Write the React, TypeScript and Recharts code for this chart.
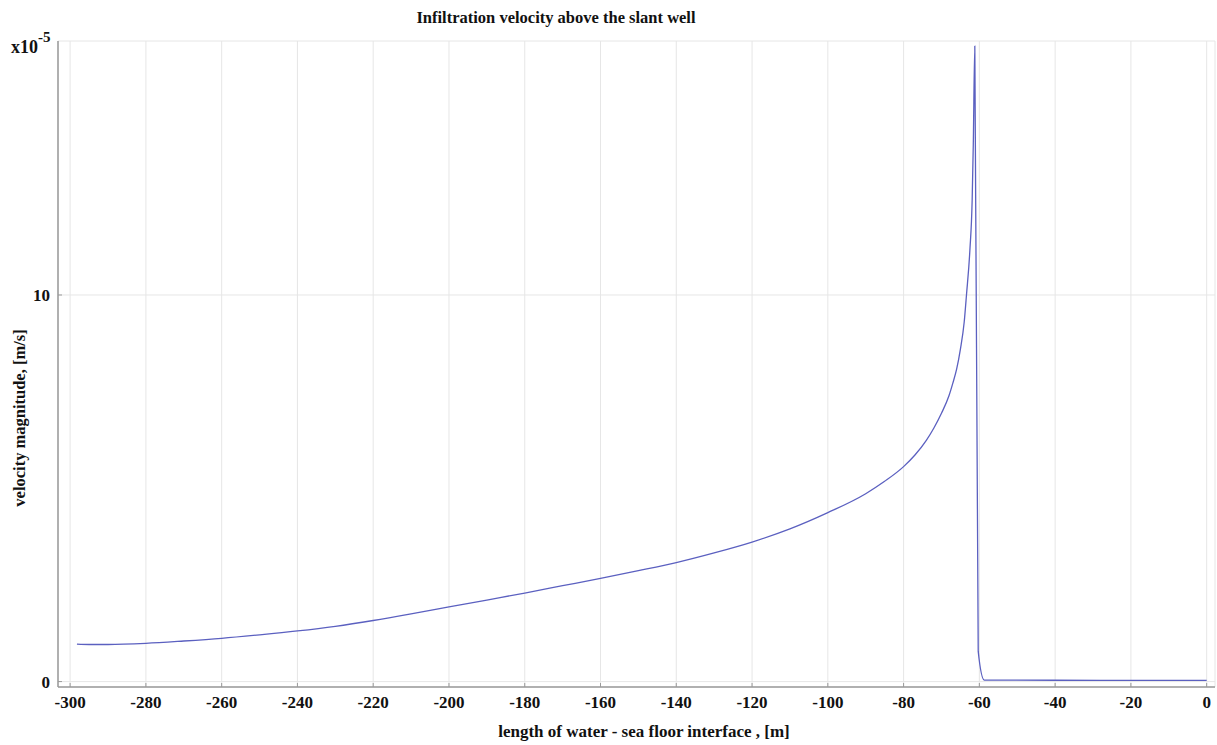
import React from 'react';
import { LineChart, Line, XAxis, YAxis, CartesianGrid } from 'recharts';

// length along water - sea floor interface [m]
const lengthM = [
  -298.2, -295, -290, -280, -270, -260, -250, -240, -230, -220, -210, -200,
  -190, -180, -170, -160, -150, -140, -130, -120, -110, -100, -90, -85, -80,
  -77, -74, -72, -70, -68, -67, -66, -65, -64, -63.4, -62.5, -61.9, -61.6, -61.2,
  -60.3, -58.7, -40, -20, 0,
];
// velocity magnitude [x10^-5 m/s]
const velocity = [
  0.97, 0.96, 0.96, 0.99, 1.05, 1.12, 1.21, 1.31, 1.43, 1.58, 1.75, 1.93,
  2.11, 2.29, 2.48, 2.67, 2.87, 3.08, 3.33, 3.61, 3.95, 4.37, 4.86, 5.18, 5.56,
  5.86, 6.24, 6.56, 6.94, 7.4, 7.72, 8.08, 8.6, 9.3, 10.0, 11.16, 12.45, 13.9, 16.44,
  0.78, 0.04, 0.035, 0.03, 0.03,
];
const xTicks = [-300, -280, -260, -240, -220, -200, -180, -160, -140, -120, -100, -80, -60, -40, -20, 0];
const yTicks = [0, 10];

const data = lengthM.map((x, i) => ({ x, v: velocity[i] }));

const W = 1217;
const H = 745;
const LEFT = 58;
const RIGHT = 1215;
const TOP = 41;
const BOTTOM = 687;
const FRAME = '#9a9a9a';
const FONT = '"Liberation Serif", "Times New Roman", serif';

const BottomTick = (props: any) => {
  const { x, payload } = props;
  return (
    <g>
      <line x1={x} x2={x} y1={BOTTOM} y2={BOTTOM - 4} stroke={FRAME} strokeWidth={1} />
      <text x={x} y={BOTTOM + 21} textAnchor="middle" fontFamily={FONT} fontWeight="bold" fontSize={17} fill="#111">
        {payload.value}
      </text>
    </g>
  );
};

const TopTick = (props: any) => {
  const { x } = props;
  return <line x1={x} x2={x} y1={TOP} y2={TOP + 4} stroke={FRAME} strokeWidth={1} />;
};

const LeftTick = (props: any) => {
  const { y, payload } = props;
  return (
    <g>
      <line x1={LEFT} x2={LEFT + 4} y1={y} y2={y} stroke={FRAME} strokeWidth={1} />
      <text x={50} y={y + 6} textAnchor="end" fontFamily={FONT} fontWeight="bold" fontSize={17} fill="#111">
        {payload.value}
      </text>
    </g>
  );
};

const RightTick = (props: any) => {
  const { y } = props;
  return <line x1={RIGHT} x2={RIGHT - 4} y1={y} y2={y} stroke={FRAME} strokeWidth={1} />;
};

export default function App() {
  return (
    <div style={{ position: 'absolute', left: 0, top: 0, width: W, height: H, background: '#fff' }}>
      <LineChart
        width={W}
        height={H}
        data={data}
        margin={{ top: TOP, right: W - RIGHT, bottom: 0, left: 0 }}
      >
        <CartesianGrid stroke="#e6e6e6" strokeWidth={1} />
        <XAxis
          xAxisId={0}
          type="number"
          dataKey="x"
          domain={[-303.2, 2.2]}
          ticks={xTicks}
          allowDataOverflow
          height={H - BOTTOM}
          tickLine={false}
          tick={<BottomTick />}
          axisLine={{ stroke: FRAME, strokeWidth: 1.5 }}
        />
        <XAxis
          xAxisId="top"
          orientation="top"
          type="number"
          dataKey="x"
          domain={[-303.2, 2.2]}
          ticks={xTicks}
          allowDataOverflow
          height={0}
          tickLine={false}
          tick={<TopTick />}
          axisLine={{ stroke: FRAME, strokeWidth: 1.5 }}
        />
        <YAxis
          yAxisId={0}
          type="number"
          domain={[-0.14, 16.57]}
          ticks={yTicks}
          allowDataOverflow
          width={LEFT}
          tickLine={false}
          tick={<LeftTick />}
          axisLine={{ stroke: FRAME, strokeWidth: 1.5 }}
        />
        <YAxis
          yAxisId="right"
          orientation="right"
          type="number"
          domain={[-0.14, 16.57]}
          ticks={yTicks}
          allowDataOverflow
          width={0}
          tickLine={false}
          tick={<RightTick />}
          axisLine={{ stroke: FRAME, strokeWidth: 1.5 }}
        />
        <Line
          xAxisId={0}
          yAxisId={0}
          type="monotoneX"
          dataKey="v"
          stroke="#5b60c0"
          strokeWidth={1.3}
          dot={false}
          isAnimationActive={false}
        />
      </LineChart>
      <svg width={W} height={H} style={{ position: 'absolute', left: 0, top: 0, pointerEvents: 'none' }}>
        <text x={556} y={23} textAnchor="middle" fontFamily={FONT} fontWeight="bold" fontSize={16.5} fill="#111">
          Infiltration velocity above the slant well
        </text>
        <text x={11} y={53} fontFamily={FONT} fontWeight="bold" fontSize={18} fill="#111">
          x10
          <tspan dy={-11} fontSize={15}>-5</tspan>
        </text>
        <text
          x={25}
          y={418}
          transform="rotate(-90 25 418)"
          textAnchor="middle"
          fontFamily={FONT}
          fontWeight="bold"
          fontSize={16.5}
          fill="#111"
        >
          velocity magnitude, [m/s]
        </text>
        <text x={644} y={737} textAnchor="middle" fontFamily={FONT} fontWeight="bold" fontSize={17} fill="#111">
          length of water - sea floor interface , [m]
        </text>
      </svg>
    </div>
  );
}
